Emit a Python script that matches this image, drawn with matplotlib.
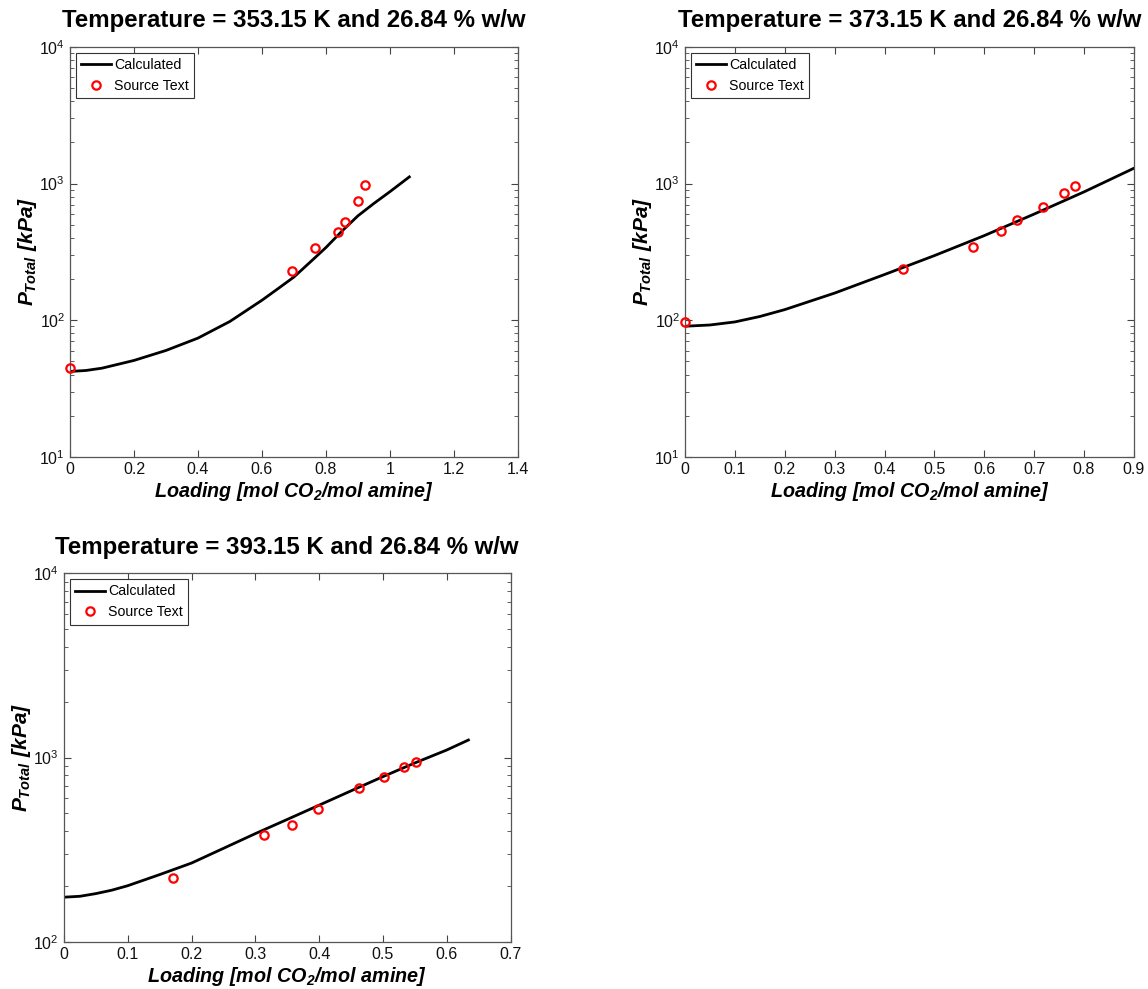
import matplotlib
matplotlib.use("Agg")
import matplotlib.pyplot as plt
import numpy as np
from matplotlib.ticker import LogLocator, NullFormatter

plt.rcParams['font.family'] = ['Liberation Sans', 'DejaVu Sans']
plt.rcParams['mathtext.fontset'] = 'custom'
plt.rcParams['mathtext.rm'] = 'Liberation Sans:bold:italic'
plt.rcParams['mathtext.it'] = 'Liberation Sans:bold:italic'
plt.rcParams['mathtext.bf'] = 'Liberation Sans:bold:italic'

# 353.15 K
calc1_x = [0, 0.05, 0.1, 0.2, 0.3, 0.4, 0.5, 0.6, 0.65, 0.7, 0.75, 0.8, 0.85, 0.9, 0.95, 1.0, 1.061]
calc1_y = [42.2, 42.9, 44.6, 50.8, 60.1, 74, 98, 140, 170, 207, 265, 340, 448, 580, 715, 871, 1119]
src1_x = [0, 0.694, 0.766, 0.837, 0.859, 0.899, 0.923]
src1_y = [45.1, 229, 339, 444, 525, 743, 972]

# 373.15 K
calc2_x = [0, 0.05, 0.1, 0.15, 0.2, 0.3, 0.4, 0.5, 0.6, 0.7, 0.8, 0.9]
calc2_y = [90.4, 92.3, 97.2, 106.5, 119.6, 158, 216, 297, 416, 598, 869, 1294]
src2_x = [0, 0.437, 0.578, 0.633, 0.666, 0.718, 0.759, 0.782]
src2_y = [97.2, 238, 344, 452, 541, 669, 851, 957]

# 393.15 K
calc3_x = [0, 0.025, 0.05, 0.075, 0.1, 0.15, 0.2, 0.25, 0.3, 0.35, 0.4, 0.45, 0.5, 0.55, 0.6, 0.634]
calc3_y = [175, 177, 183, 191, 202, 232, 268, 322, 387, 462, 552, 660, 788, 935, 1099, 1245]
src3_x = [0.171, 0.314, 0.357, 0.398, 0.463, 0.501, 0.533, 0.552]
src3_y = [222, 382, 431, 528, 684, 781, 884, 948]

titles = ['Temperature = 353.15 K and 26.84 % w/w',
          'Temperature = 373.15 K and 26.84 % w/w',
          'Temperature = 393.15 K and 26.84 % w/w']
xlims = [(0, 1.4), (0, 0.9), (0, 0.7)]
xticks = [np.arange(0, 1.41, 0.2), np.arange(0, 0.91, 0.1), np.arange(0, 0.71, 0.1)]
xticklabels = [['0', '0.2', '0.4', '0.6', '0.8', '1', '1.2', '1.4'],
               ['0', '0.1', '0.2', '0.3', '0.4', '0.5', '0.6', '0.7', '0.8', '0.9'],
               ['0', '0.1', '0.2', '0.3', '0.4', '0.5', '0.6', '0.7']]
ylims = [(10, 1e4), (10, 1e4), (100, 1e4)]

fig = plt.figure(figsize=(11.48, 9.89), dpi=100)
positions = [[0.061, 0.538, 0.390, 0.4146],
             [0.5967, 0.538, 0.391, 0.4146],
             [0.0557, 0.0475, 0.389, 0.373]]
data = [(calc1_x, calc1_y, src1_x, src1_y),
        (calc2_x, calc2_y, src2_x, src2_y),
        (calc3_x, calc3_y, src3_x, src3_y)]

for i in range(3):
    ax = fig.add_axes(positions[i])
    cx, cy, sx, sy = data[i]
    ax.plot(cx, cy, color='black', lw=2, label='Calculated')
    ax.plot(sx, sy, 'o', mfc='none', mec='red', mew=1.6, ms=6,
            label='Source Text', clip_on=False, zorder=3)
    ax.set_yscale('log')
    ax.set_xlim(*xlims[i])
    ax.set_ylim(*ylims[i])
    ax.set_xticks(xticks[i])
    ax.set_xticklabels(xticklabels[i])
    ax.yaxis.set_major_locator(LogLocator(base=10))
    ax.yaxis.set_minor_locator(LogLocator(base=10, subs=np.arange(2, 10)))
    ax.yaxis.set_minor_formatter(NullFormatter())
    ax.tick_params(which='both', direction='in', top=True, right=True,
                   labelsize=11.5, colors='#444444', labelcolor='#111111')
    ax.tick_params(which='major', length=5, width=0.8)
    ax.tick_params(which='minor', length=3, width=0.6)
    for s in ax.spines.values():
        s.set_color('#555555')
        s.set_linewidth(0.9)
    ax.set_title(titles[i], fontsize=17.3, fontweight='bold', pad=14)
    ax.set_xlabel('Loading [mol CO$_2$/mol amine]', fontsize=14.2,
                  fontweight='bold', fontstyle='italic', labelpad=2)
    ax.set_ylabel(r'$P_{Total}\ [kPa]$', fontsize=15, labelpad=0)
    leg = ax.legend(loc='upper left', fontsize=10.2, fancybox=False,
                    edgecolor='#333333', framealpha=1, handlelength=2.1,
                    borderaxespad=0.4, handletextpad=0.2, borderpad=0.4,
                    labelspacing=0.45)
    leg.get_frame().set_linewidth(0.8)

fig.savefig('out.png', dpi=100)
